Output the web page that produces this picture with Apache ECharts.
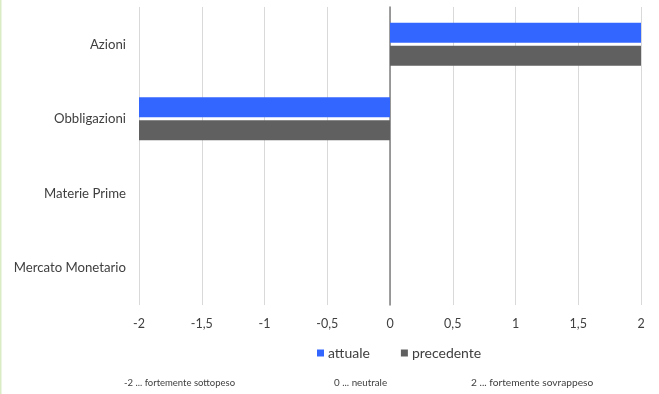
<!DOCTYPE html>
<html><head><meta charset="utf-8">
<script src="https://cdn.jsdelivr.net/npm/echarts@6/dist/echarts.min.js"></script>
<style>html,body{margin:0;padding:0;background:#fff}#c{width:659px;height:394px}</style>
</head><body><div id="c"></div>
<script>
const categories = ['Azioni', 'Obbligazioni', 'Materie Prime', 'Mercato Monetario'];
const attuale = [2, -2, 0, 0];
const precedente = [2, -2, 0, 0];
const footerNotes = ['-2 ... fortemente sottopeso', '0 ... neutrale', '2 ... fortemente sovrappeso'];

const chart = echarts.init(document.getElementById('c'));
const font = 'Lato, "Open Sans", sans-serif';
chart.setOption({
  animation: false,
  textStyle: {fontFamily: font},
  grid: {left: 139, right: 18, top: 7, bottom: 89, containLabel: false},
  legend: {
    top: 341, left: 312, itemWidth: 7, itemHeight: 7, itemGap: 31,
    icon: 'rect',
    textStyle: {fontSize: 14, color: '#404040', fontFamily: font, padding: [0, 0, 0, -1]},
    data: ['attuale', 'precedente']
  },
  xAxis: {
    type: 'value', min: -2, max: 2, interval: 0.5,
    axisLine: {show: false}, axisTick: {show: false},
    splitLine: {lineStyle: {color: '#d9d9d9', width: 1}},
    axisLabel: {color: '#404040', fontSize: 12.5, margin: 12,
      formatter: v => String(v).replace('.', ',')}
  },
  yAxis: {
    type: 'category', data: categories, inverse: true,
    axisLine: {onZero: true, lineStyle: {color: '#7f7f7f', width: 1.5}},
    axisTick: {show: false},
    axisLabel: {color: '#404040', fontSize: 13.2, margin: 13}
  },
  series: [
    {name: 'attuale', type: 'bar', data: attuale, barWidth: 20, barGap: '15%',
     itemStyle: {color: '#3366ff'}},
    {name: 'precedente', type: 'bar', data: precedente, barWidth: 20,
     itemStyle: {color: '#606060'}}
  ],
  graphic: [
    {type: 'rect', left: 0, top: 0, shape: {width: 1.5, height: 394}, style: {fill: '#d9ecc4'}},
    {type: 'text', left: 124, top: 378, style: {text: footerNotes[0], fontSize: 9.5, fill: '#404040', fontFamily: font}},
    {type: 'text', left: 334, top: 378, style: {text: footerNotes[1], fontSize: 9.8, fill: '#404040', fontFamily: font}},
    {type: 'text', left: 471, top: 378, style: {text: footerNotes[2], fontSize: 10.2, fill: '#404040', fontFamily: font}}
  ]
});
</script></body></html>
